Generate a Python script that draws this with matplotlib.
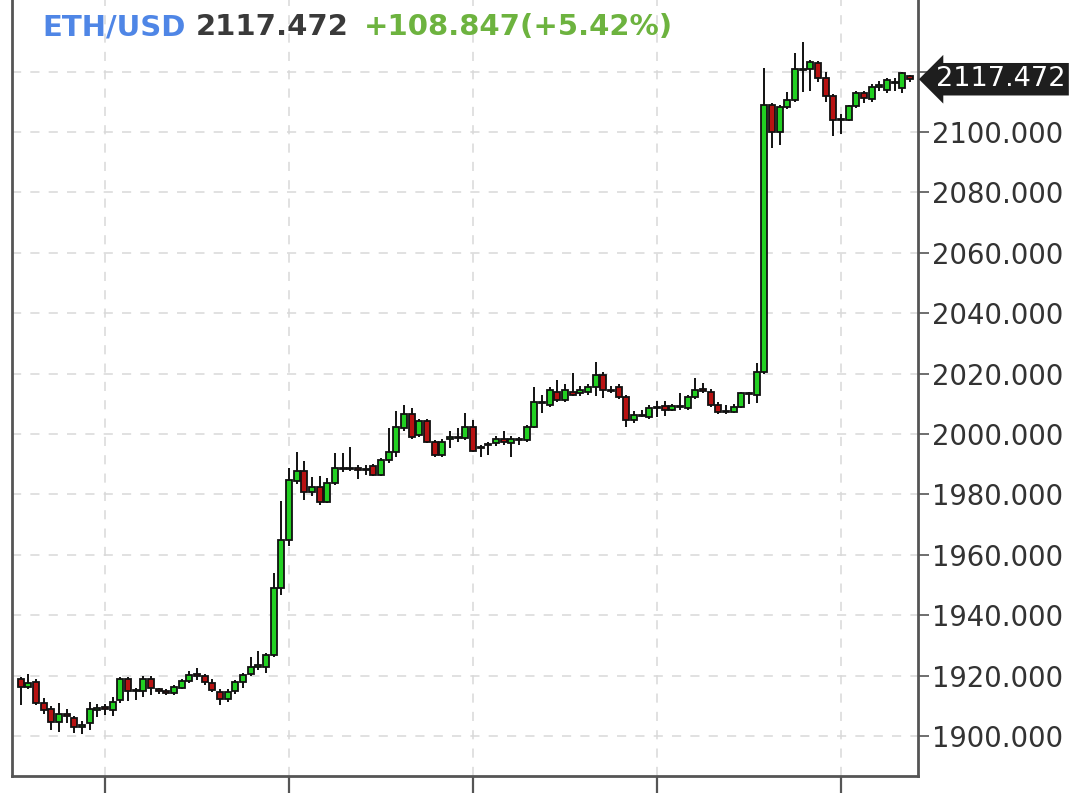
import matplotlib
matplotlib.use("Agg")
import matplotlib.pyplot as plt
import numpy as np

# OHLC data (5-min candles)
opens = [1919.0, 1916.1, 1918.0, 1910.9, 1909.0, 1904.8, 1907.3, 1905.9, 1903.0, 1904.2,
         1908.7, 1909.5, 1908.5, 1912.0, 1918.9, 1915.3, 1915.0, 1918.9, 1915.4, 1914.8,
         1914.2, 1916.0, 1918.2, 1920.5, 1919.9, 1917.7, 1914.7, 1912.1, 1914.8, 1918.0,
         1920.5, 1923.0, 1923.0, 1926.8, 1948.9, 1964.9, 1984.5, 1987.8, 1980.9, 1982.5,
         1977.6, 1983.7, 1988.6, 1988.4, 1988.6, 1988.2, 1989.4, 1986.5, 1991.4, 1994.1,
         2001.9, 2006.6, 1999.7, 2004.4, 1997.5, 1993.0, 1998.5, 1998.7, 1998.6, 2002.4,
         1995.6, 1996.2, 1996.9, 1998.3, 1997.0, 1998.4, 1998.0, 2002.4, 2010.7, 2009.6,
         2014.0, 2011.3, 2014.0, 2013.5, 2014.0, 2015.7, 2019.5, 2014.6, 2015.7, 2012.4,
         2004.6, 2006.3, 2005.7, 2008.5, 2009.3, 2008.0, 2009.0, 2008.5, 2012.4, 2014.6,
         2014.0, 2009.6, 2007.4, 2007.4, 2009.0, 2013.5, 2012.9, 2020.6, 2108.9, 2100.1,
         2108.4, 2110.6, 2120.8, 2120.8, 2123.0, 2117.8, 2111.9, 2104.0, 2104.0, 2108.6,
         2112.8, 2110.8, 2115.0, 2113.9, 2116.6, 2114.5, 2118.5]
highs = [1919.5, 1920.4, 1919.0, 1912.7, 1910.0, 1911.0, 1909.0, 1906.6, 1905.0, 1911.4,
         1910.7, 1910.5, 1913.0, 1919.5, 1919.5, 1916.0, 1919.9, 1920.0, 1916.0, 1915.5,
         1917.0, 1919.0, 1921.5, 1922.6, 1920.5, 1918.8, 1915.5, 1915.5, 1918.5, 1921.0,
         1926.0, 1928.2, 1927.5, 1953.9, 1977.8, 1988.6, 1994.1, 1991.0, 1985.8, 1986.0,
         1985.5, 1993.8, 1993.8, 1995.8, 1989.7, 1989.7, 1990.0, 1992.0, 2001.9, 2007.7,
         2009.6, 2008.5, 2005.0, 2005.0, 1998.0, 1998.5, 2001.0, 2002.0, 2006.8, 2004.5,
         1996.5, 1997.5, 1999.5, 2001.0, 1999.5, 1999.0, 2003.0, 2015.7, 2013.0, 2015.5,
         2017.9, 2016.5, 2020.1, 2016.0, 2016.5, 2024.0, 2020.5, 2016.0, 2016.5, 2013.0,
         2007.5, 2008.0, 2009.5, 2011.0, 2011.0, 2010.0, 2013.5, 2013.0, 2018.4, 2017.0,
         2015.0, 2010.5, 2009.5, 2010.0, 2014.0, 2014.0, 2023.4, 2121.1, 2109.5, 2109.0,
         2113.4, 2126.0, 2129.9, 2124.0, 2123.5, 2120.0, 2112.5, 2106.0, 2109.0, 2113.5,
         2113.5, 2116.0, 2117.0, 2118.0, 2118.0, 2120.0, 2119.0]
lows = [1910.2, 1915.5, 1910.3, 1907.3, 1902.0, 1901.4, 1904.3, 1901.1, 1900.8, 1902.0,
        1906.4, 1907.0, 1906.5, 1911.0, 1911.7, 1912.0, 1913.0, 1913.5, 1914.0, 1913.5,
        1913.5, 1915.5, 1917.5, 1918.5, 1917.0, 1914.5, 1910.3, 1911.1, 1914.0, 1916.0,
        1920.0, 1922.0, 1920.8, 1926.0, 1946.7, 1963.0, 1983.5, 1978.0, 1979.5, 1976.5,
        1977.0, 1983.0, 1987.5, 1987.8, 1985.0, 1986.5, 1986.0, 1986.0, 1990.5, 1992.5,
        2001.0, 1998.5, 1999.0, 1997.0, 1992.5, 1992.5, 1995.5, 1997.5, 1998.0, 1994.0,
        1992.5, 1993.0, 1996.0, 1996.5, 1992.5, 1996.5, 1997.5, 2002.0, 2007.0, 2009.0,
        2010.5, 2010.5, 2012.5, 2012.5, 2013.0, 2012.5, 2012.0, 2013.5, 2011.5, 2002.2,
        2003.5, 2005.5, 2005.0, 2005.5, 2006.0, 2007.5, 2008.0, 2008.0, 2011.5, 2013.5,
        2009.0, 2006.5, 2006.5, 2007.0, 2008.5, 2010.0, 2010.2, 2020.0, 2094.6, 2095.7,
        2107.5, 2110.0, 2113.4, 2113.5, 2116.5, 2110.0, 2098.7, 2099.5, 2103.5, 2108.0,
        2109.5, 2110.0, 2113.5, 2113.0, 2113.5, 2113.0, 2116.5]
closes = [1916.1, 1917.6, 1911.0, 1908.7, 1904.5, 1907.3, 1906.6, 1903.0, 1903.8, 1908.8,
          1909.3, 1909.0, 1911.2, 1918.9, 1915.0, 1914.8, 1918.9, 1916.0, 1914.8, 1914.4,
          1916.2, 1918.3, 1920.2, 1919.8, 1918.0, 1915.2, 1912.1, 1914.7, 1917.8, 1920.2,
          1923.0, 1923.3, 1926.8, 1948.9, 1964.9, 1984.8, 1987.8, 1980.9, 1982.5, 1977.6,
          1983.7, 1988.6, 1988.4, 1988.6, 1988.2, 1988.0, 1986.5, 1991.4, 1994.1, 2002.4,
          2006.6, 1999.1, 2004.4, 1997.5, 1993.2, 1997.5, 1998.7, 1998.6, 2002.4, 1994.5,
          1995.2, 1996.8, 1998.3, 1997.3, 1998.3, 1997.9, 2002.4, 2010.7, 2010.2, 2014.6,
          2011.3, 2014.6, 2013.0, 2014.6, 2015.7, 2019.5, 2014.6, 2014.3, 2012.4, 2004.6,
          2006.3, 2006.0, 2008.5, 2008.7, 2008.0, 2009.3, 2008.8, 2012.4, 2014.6, 2014.4,
          2009.6, 2007.4, 2007.3, 2009.0, 2013.5, 2013.3, 2020.6, 2108.9, 2100.1, 2108.4,
          2110.6, 2120.8, 2120.4, 2123.3, 2117.8, 2111.9, 2104.0, 2104.2, 2108.6, 2112.8,
          2111.2, 2115.0, 2115.3, 2117.2, 2116.1, 2119.5, 2117.472]

y_ticks = [1900, 1920, 1940, 1960, 1980, 2000, 2020, 2040, 2060, 2080, 2100, 2120]
x_ticks = [11, 35, 59, 83, 107]

symbol = "ETH/USD"
last_price = "2117.472"
change_text = "+108.847(+5.42%)"

GREEN = "#22d022"
RED = "#b81212"

fig = plt.figure(figsize=(10.8, 7.93), dpi=100)
ax = fig.add_axes([12/1080, 1 - 776/793, (918 - 12)/1080, 776/793])

x = np.arange(len(opens))
o = np.array(opens); h = np.array(highs); l = np.array(lows); c = np.array(closes)
up = c >= o
body_bottom = np.minimum(o, c)
body_h = np.maximum(np.abs(c - o), 0.4)
colors = np.where(up, GREEN, RED)

ax.vlines(x, l, h, color="#111111", linewidth=1.4, zorder=3)
ax.bar(x, body_h, bottom=body_bottom, width=0.8, color=colors,
       edgecolor="#111111", linewidth=1.3, zorder=4)

ax.set_xlim(-1.13, 117.04)
ax.set_ylim(2100 - (776 - 132) / 3.02, 2100 + 132 / 3.02)

ax.set_xticks(x_ticks)
ax.set_xticklabels([])
ax.set_yticks(y_ticks)
# the 2120 label is hidden behind the last-price marker in the original
ax.set_yticklabels([f"{v:.3f}" if v != 2120 else "" for v in y_ticks])
ax.yaxis.tick_right()
ax.tick_params(axis="y", direction="out", length=8, width=1.2, colors="#555555",
               labelcolor="#333333", labelsize=19.8, pad=2)
ax.tick_params(axis="x", direction="out", length=13, width=1.6, colors="#555555")

ax.grid(True, color="#d9d9d9", linestyle=(0, (6, 6)), linewidth=1.1, zorder=0)
ax.set_axisbelow(True)

ax.spines["top"].set_visible(False)
for side in ["left", "right", "bottom"]:
    ax.spines[side].set_color("#555555")
    ax.spines[side].set_linewidth(2)

# last price label
ax.text(119.4, closes[-1], last_price, ha="left", va="center", color="white",
        fontsize=19.5, clip_on=False, zorder=10,
        bbox=dict(boxstyle="larrow,pad=0.12", fc="#1e1e1e", ec="none"))

# header
fig.text(42/1080, 1 - 27/793, symbol, color="#4f86e6", fontsize=21, fontweight="bold",
         ha="left", va="center")
fig.text(196/1080, 1 - 27/793, last_price, color="#3a3a3a", fontsize=21, fontweight="bold",
         ha="left", va="center")
fig.text(364/1080, 1 - 27/793, change_text, color="#6db33f", fontsize=21, fontweight="bold",
         ha="left", va="center")

fig.savefig("out.png", dpi=100)
